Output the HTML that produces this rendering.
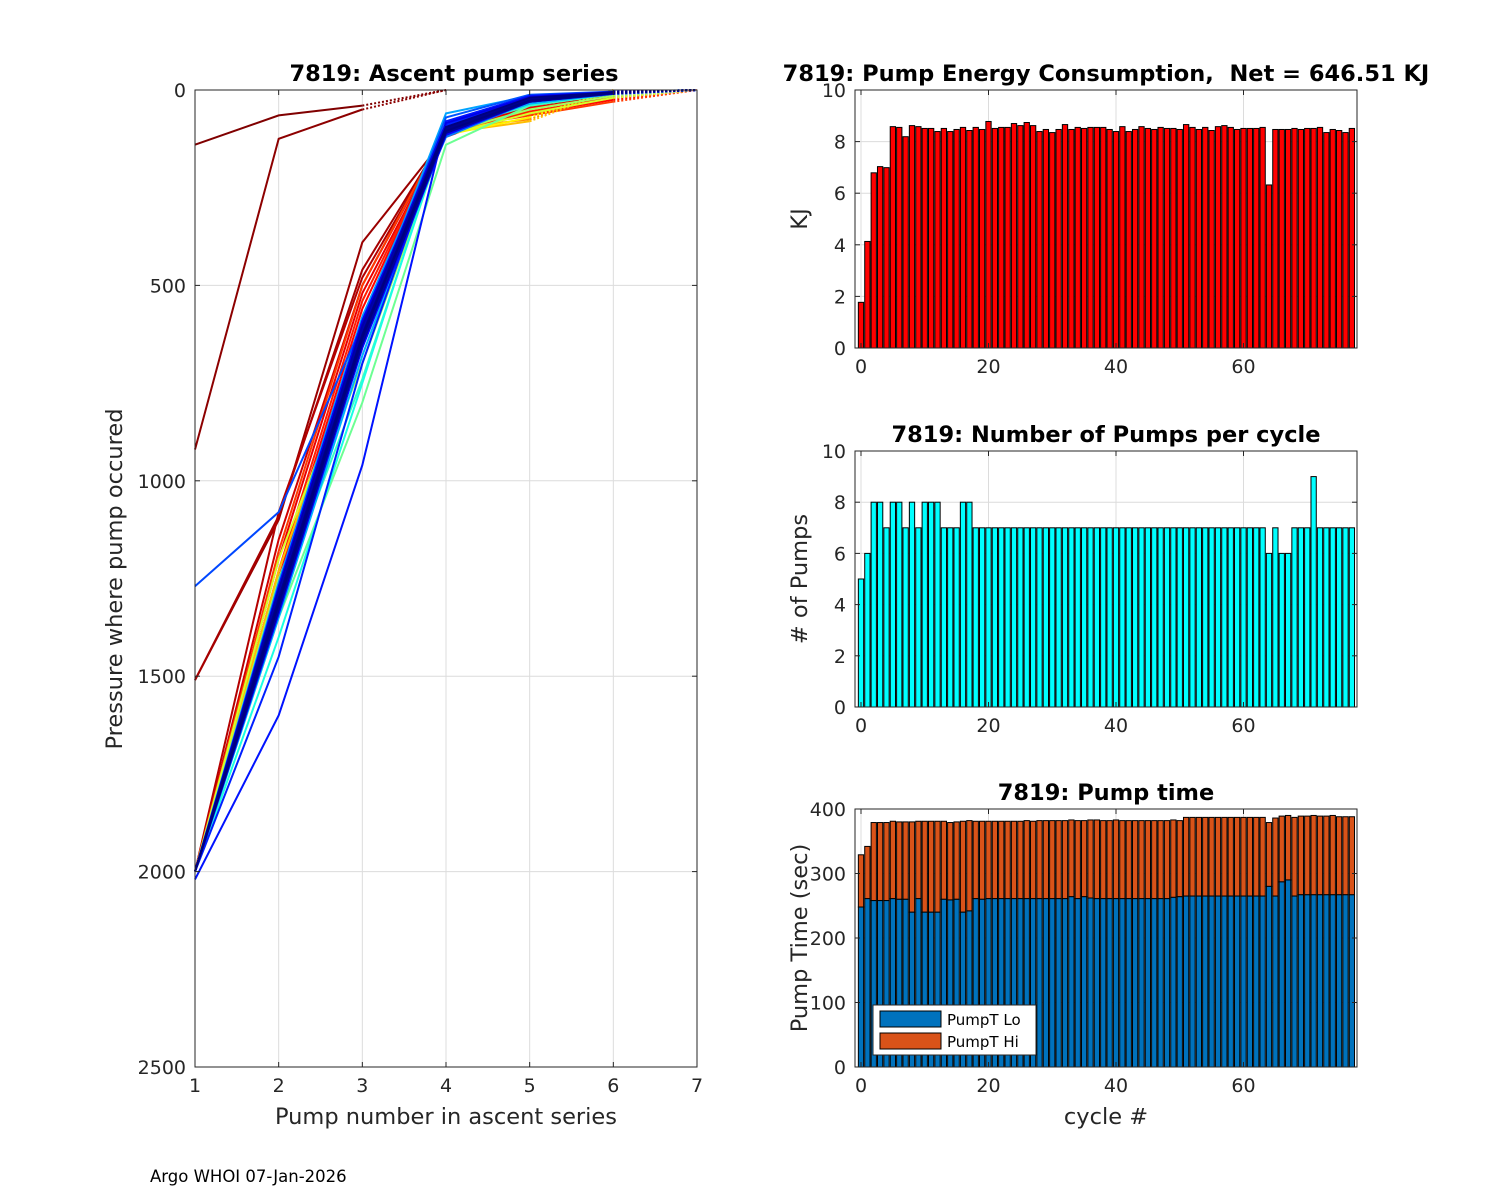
<!DOCTYPE html>
<html><head><meta charset="utf-8"><style>
body{margin:0;background:#fff;}
svg{display:block;font-family:"DejaVu Sans","Liberation Sans",sans-serif;}
</style></head><body>
<svg id="fig" width="1500" height="1200" viewBox="0 0 1500 1200" xmlns="http://www.w3.org/2000/svg">
<rect width="1500" height="1200" fill="#fff"/>
<text x="150" y="1182" font-size="16.5" fill="#000">Argo WHOI 07-Jan-2026</text>
</svg>
<script>
// ---------- DATA ----------
const profiles = [
 [140,65,40],[920,125,50],[1510,1100,390,120,40,10],[1510,1090,460,110,35,10],
 [2000,1080,480,110,30,10],[2000,1150,500,105,40,15],[2000,1200,520,110,45,20],
 [2000,1250,560,100,60,25],[2000,1230,540,105,55,20],[2000,1180,500,100,65,30],
 [2000,1280,600,100,75],[2000,1230,620,110,80],[2000,1260,640,115,70],
 [2000,1200,650,115,60,20],[2000,1250,700,110,50,15],[2000,1350,800,140,40,10],
 [2000,1300,740,100,40,10],[2000,1400,750,90,30,5],[2000,1300,620,100,30,10],
 [2000,1280,600,95,25,8],[2000,1320,640,110,30,10],[2000,1350,680,105,35,10],
 [2000,1260,580,90,20,5],[2000,1300,610,120,30,8],[2000,1330,650,100,25,6],
 [1270,1080,600,100,25,5],[2000,1290,620,110,28,8],[2000,1310,600,95,22,5],
 [2000,1450,700,90,20,5],[2020,1600,960,80,15,5],[2000,1340,660,115,30,10],
 [2000,1270,590,100,25,6],[2000,1300,630,105,27,7],[2000,1310,620,100,26,6],
 [2000,1290,600,110,30,8],[2000,1320,640,105,28,7],[2000,1300,615,100,25,6],
 [2000,1280,605,95,24,5],[2000,1330,650,110,30,9],[2000,1300,625,100,26,6],
 [2000,1310,630,105,27,7],[2000,1295,610,60,15,5],[2000,1305,620,70,12,4],
 [2000,1285,600,85,18,5],[2000,1315,635,95,20,6]
];
const profileCycle = [0,1,2,3,4,6,8,10,12,14,20,24,28,32,36,40,44,46,48,50,52,54,56,58,60,
 62,63,64,65,66,67,68,69,70,71,72,73,74,75,76,77,55,61,69,77];
const energy = [1.77,4.13,6.79,7.03,6.99,8.58,8.55,8.19,8.62,8.58,8.51,8.51,8.39,8.51,8.39,8.47,8.55,8.43,8.55,8.47,
 8.78,8.51,8.55,8.55,8.70,8.62,8.74,8.62,8.39,8.47,8.35,8.47,8.66,8.47,8.55,8.51,8.55,8.55,8.55,8.47,
 8.39,8.58,8.39,8.47,8.58,8.51,8.47,8.55,8.51,8.51,8.47,8.66,8.55,8.47,8.55,8.43,8.58,8.62,8.55,8.47,
 8.51,8.51,8.51,8.55,6.32,8.47,8.47,8.47,8.51,8.47,8.51,8.51,8.55,8.35,8.47,8.43,8.35,8.51];
const pumps = [5,6,8,8,7,8,8,7,8,7,8,8,8,7,7,7,8,8,7,7,7,7,7,7,7,7,7,7,7,7,7,7,7,7,7,7,7,7,7,7,
 7,7,7,7,7,7,7,7,7,7,7,7,7,7,7,7,7,7,7,7,7,7,7,7,6,7,6,6,7,7,7,9,7,7,7,7,7,7];
const pumpLo = [248,261,258,258,258,261,260,260,240,261,240,240,240,260,259,260,240,242,261,260,
 261,261,261,261,261,261,261,261,261,261,261,261,261,264,261,264,262,261,261,261,
 261,261,261,261,261,261,261,261,261,263,264,265,265,265,265,265,265,265,265,265,
 265,265,265,265,280,265,287,290,265,267,267,267,267,267,267,267,267,267];
const pumpTotal = [329,342,379,379,379,381,380,380,380,381,381,381,381,381,379,380,381,382,381,381,
 381,381,381,381,381,381,382,381,382,382,382,382,382,383,382,382,383,383,382,382,
 383,382,382,382,382,382,382,382,382,383,382,387,387,387,387,387,387,387,387,387,
 387,387,387,387,379,386,389,390,387,389,389,390,389,389,390,388,388,388];
const leftXTicks = [1,2,3,4,5,6,7];
const leftYTicks = [0,500,1000,1500,2000,2500];
const cycTicks = [0,20,40,60];
const eTicks = [0,2,4,6,8,10];
const pTicks = [0,2,4,6,8,10];
const tTicks = [0,100,200,300,400];

// ---------- HELPERS ----------
const svg = document.getElementById('fig');
const NS = 'http://www.w3.org/2000/svg';
const TICK=19, LAB=22.5, TIT=22.5;
function mk(tag, attrs, parent){const e=document.createElementNS(NS,tag);for(const k in attrs)e.setAttribute(k,attrs[k]);(parent||svg).appendChild(e);return e;}
function jet(t){const c=v=>Math.max(0,Math.min(1,v));
 const r=c(1.5-Math.abs(4*t-3)),g=c(1.5-Math.abs(4*t-2)),b=c(1.5-Math.abs(4*t-1));
 return `rgb(${Math.round(r*255)},${Math.round(g*255)},${Math.round(b*255)})`;}
function axesFrame(name){
 const g=mk('g',{});
 
 
 return g;
}

// ---------- LEFT PLOT ----------
(function(){
 const L=195,T=90,R=697,B=1067;
 const xs=v=>L+(v-1)/6*(R-L), ys=v=>T+v/2500*(B-T);
 const g=axesFrame('ascent-pump-axes');
 leftXTicks.forEach(v=>{const l=mk('line',{x1:xs(v),x2:xs(v),y1:T,y2:B,stroke:'#dcdcdc','stroke-width':1},g);
  });
 leftYTicks.forEach(v=>{const l=mk('line',{x1:L,x2:R,y1:ys(v),y2:ys(v),stroke:'#dcdcdc','stroke-width':1},g);
  });
 const order=profiles.map((p,i)=>i).sort((a,b)=>profileCycle[a]-profileCycle[b]);
 order.forEach(i=>{
  const p=profiles[i];
  const col=jet(1-profileCycle[i]/77);
  const pts=p.map((v,k)=>`${xs(k+1).toFixed(1)},${ys(v).toFixed(1)}`).join(' ');
  const pl=mk('polyline',{points:pts,fill:'none',stroke:col,'stroke-width':2},g);
  
  
  const k=p.length;
  const d=mk('line',{x1:xs(k),y1:ys(p[k-1]),x2:xs(k+1),y2:ys(0),stroke:col,'stroke-width':2,'stroke-dasharray':'2,2'},g);
  
  
 });
 mk('rect',{x:L,y:T,width:R-L,height:B-T,fill:'none',stroke:'#262626','stroke-width':1},g);
 leftXTicks.forEach(v=>{mk('line',{x1:xs(v),x2:xs(v),y1:B,y2:B-5,stroke:'#262626'},g);mk('line',{x1:xs(v),x2:xs(v),y1:T,y2:T+5,stroke:'#262626'},g);
  const t=mk('text',{x:xs(v),y:B+25,'font-size':TICK,'text-anchor':'middle',fill:'#262626'},g);t.textContent=v;
  });
 leftYTicks.forEach(v=>{mk('line',{x1:L,x2:L+5,y1:ys(v),y2:ys(v),stroke:'#262626'},g);mk('line',{x1:R,x2:R-5,y1:ys(v),y2:ys(v),stroke:'#262626'},g);
  const t=mk('text',{x:L-9,y:ys(v)+7,'font-size':TICK,'text-anchor':'end',fill:'#262626'},g);t.textContent=v;
  });
 const ti=mk('text',{x:(L+R)/2+8,y:T-9,'font-size':TIT,'font-weight':'bold','text-anchor':'middle',fill:'#000'},g);ti.textContent='7819: Ascent pump series';
 
 const xl=mk('text',{x:(L+R)/2,y:B+57,'font-size':LAB,'text-anchor':'middle',fill:'#262626'},g);xl.textContent='Pump number in ascent series';
 
 const yl=mk('text',{x:0,y:0,'font-size':LAB,'text-anchor':'middle',fill:'#262626',transform:`translate(122,579) rotate(-90)`},g);yl.textContent='Pressure where pump occured';
 
})();

// ---------- RIGHT BAR PLOTS ----------
function barPlot(T,B,ymax,yticks,title,ylabel,name,drawBars){
 const L=855,R=1357;
 const xs=v=>861+v*6.375, ys=v=>B-v/ymax*(B-T);
 const g=axesFrame(name);
 cycTicks.forEach(v=>mk('line',{x1:xs(v),x2:xs(v),y1:T,y2:B,stroke:'#dcdcdc'},g));
 yticks.forEach(v=>mk('line',{x1:L,x2:R,y1:ys(v),y2:ys(v),stroke:'#dcdcdc'},g));
 drawBars(g,xs,ys);
 mk('rect',{x:L,y:T,width:R-L,height:B-T,fill:'none',stroke:'#262626'},g);
 cycTicks.forEach(v=>{mk('line',{x1:xs(v),x2:xs(v),y1:B,y2:B-5,stroke:'#262626'},g);mk('line',{x1:xs(v),x2:xs(v),y1:T,y2:T+5,stroke:'#262626'},g);
  const t=mk('text',{x:xs(v),y:B+25,'font-size':TICK,'text-anchor':'middle',fill:'#262626'},g);t.textContent=v;
  });
 yticks.forEach(v=>{mk('line',{x1:L,x2:L+5,y1:ys(v),y2:ys(v),stroke:'#262626'},g);mk('line',{x1:R,x2:R-5,y1:ys(v),y2:ys(v),stroke:'#262626'},g);
  const t=mk('text',{x:L-9,y:ys(v)+7,'font-size':TICK,'text-anchor':'end',fill:'#262626'},g);t.textContent=v;
  });
 const ti=mk('text',{x:(L+R)/2,y:T-9,'font-size':TIT,'font-weight':'bold','text-anchor':'middle',fill:'#000','xml:space':'preserve'},g);
 ti.setAttribute('style','white-space:pre');ti.textContent=title;
 
 const yl=mk('text',{x:0,y:0,'font-size':LAB,'text-anchor':'middle',fill:'#262626',transform:`translate(${L-48},${(T+B)/2}) rotate(-90)`},g);yl.textContent=ylabel;
 
 return {g,xs,ys,L,R,T,B};
}
const bw=5.3;
barPlot(90,348,10,eTicks,'7819: Pump Energy Consumption,  Net = 646.51 KJ','KJ','energy-axes',(g,xs,ys)=>{
 energy.forEach((v,i)=>{const r=mk('rect',{x:xs(i)-bw/2,y:ys(v),width:bw,height:ys(0)-ys(v),fill:'#ff0000',stroke:'#000','stroke-width':1},g);
  });
});
barPlot(451,707,10,pTicks,'7819: Number of Pumps per cycle','# of Pumps','pumps-axes',(g,xs,ys)=>{
 pumps.forEach((v,i)=>{const r=mk('rect',{x:xs(i)-bw/2,y:ys(v),width:bw,height:ys(0)-ys(v),fill:'#00ffff',stroke:'#000','stroke-width':1},g);
  });
});
const pt=barPlot(809,1067,400,tTicks,'7819: Pump time','Pump Time (sec)','pump-time-axes',(g,xs,ys)=>{
 pumpTotal.forEach((v,i)=>{const lo=pumpLo[i];
  const h=mk('rect',{x:xs(i)-bw/2,y:ys(v),width:bw,height:ys(lo)-ys(v),fill:'#d95319',stroke:'#000','stroke-width':1},g);
  
  const r=mk('rect',{x:xs(i)-bw/2,y:ys(lo),width:bw,height:ys(0)-ys(lo),fill:'#0072bd',stroke:'#000','stroke-width':1},g);
  });
});
(function(){
 const g=pt.g;
 const xl=mk('text',{x:(pt.L+pt.R)/2,y:pt.B+57,'font-size':LAB,'text-anchor':'middle',fill:'#262626'},g);xl.textContent='cycle #';
 
 const lg=mk('g',{},g);
 
 
 mk('rect',{x:873,y:1005,width:163,height:50,fill:'#fff',stroke:'#262626'},lg);
 mk('rect',{x:880,y:1011,width:61,height:16,fill:'#0072bd',stroke:'#000'},lg);
 mk('rect',{x:880,y:1033,width:61,height:16,fill:'#d95319',stroke:'#000'},lg);
 const a=mk('text',{x:947,y:1025,'font-size':15,fill:'#000'},lg);a.textContent='PumpT Lo';
 
 const b=mk('text',{x:947,y:1047,'font-size':15,fill:'#000'},lg);b.textContent='PumpT Hi';
 
})();
</script>
</body></html>
